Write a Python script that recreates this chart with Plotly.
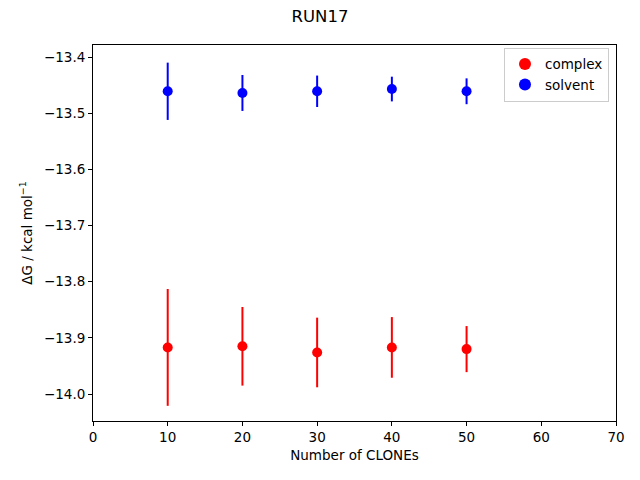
import plotly.graph_objects as go

clones = [10, 20, 30, 40, 50]
complex_dg = [-13.917, -13.915, -13.926, -13.917, -13.920]
complex_err = [0.104, 0.070, 0.062, 0.054, 0.041]
solvent_dg = [-13.461, -13.464, -13.461, -13.457, -13.461]
solvent_err = [0.051, 0.032, 0.028, 0.022, 0.023]

x_ticks = [0, 10, 20, 30, 40, 50, 60, 70]
y_ticks = [-13.4, -13.5, -13.6, -13.7, -13.8, -13.9, -14.0]
y_ticklabels = ["\u221213.4", "\u221213.5", "\u221213.6", "\u221213.7", "\u221213.8", "\u221213.9", "\u221214.0"]

font = "DejaVu Sans, sans-serif"
fs = 13.5

fig = go.Figure()
for name, vals, errs, col in [("complex", complex_dg, complex_err, "#ff0000"),
                              ("solvent", solvent_dg, solvent_err, "#0000ff")]:
    fig.add_trace(go.Scatter(
        x=clones, y=vals, mode="markers", name=name,
        marker=dict(color=col, size=10),
        error_y=dict(type="data", array=errs, visible=True, color=col,
                     thickness=2, width=0),
    ))

fig.update_layout(
    width=640, height=480,
    margin=dict(l=93, r=24, t=45, b=59),
    paper_bgcolor="white", plot_bgcolor="white",
    font=dict(family=font, size=fs, color="black"),
    title=dict(text="RUN17", x=0.5, xanchor="center", y=0.967, yanchor="middle",
               font=dict(size=16.5)),
    showlegend=True,
    legend=dict(x=0.9866, y=0.993, xanchor="right", yanchor="top",
                bordercolor="#cccccc", borderwidth=1, bgcolor="rgba(255,255,255,0.8)",
                font=dict(size=fs), itemsizing="constant"),
    xaxis=dict(range=[0, 70], tickvals=x_ticks, showgrid=False, zeroline=False,
               showline=True, linecolor="black", linewidth=1, mirror=True,
               ticks="outside", ticklen=4, tickcolor="black",
               tickfont=dict(size=fs),
               title=dict(text="Number of CLONEs", standoff=6, font=dict(size=fs))),
    yaxis=dict(range=[-14.048, -13.3786], tickvals=y_ticks, ticktext=y_ticklabels,
               showgrid=False, zeroline=False,
               showline=True, linecolor="black", linewidth=1, mirror=True,
               ticks="outside", ticklen=4, tickcolor="black",
               tickfont=dict(size=fs),
               title=dict(text="\u0394G / kcal mol<sup>\u22121</sup>", standoff=8,
                          font=dict(size=fs))),
)

fig.write_html("out.html", config={"displayModeBar": False},
               post_script="document.body.style.margin='0';document.body.style.padding='0';")
